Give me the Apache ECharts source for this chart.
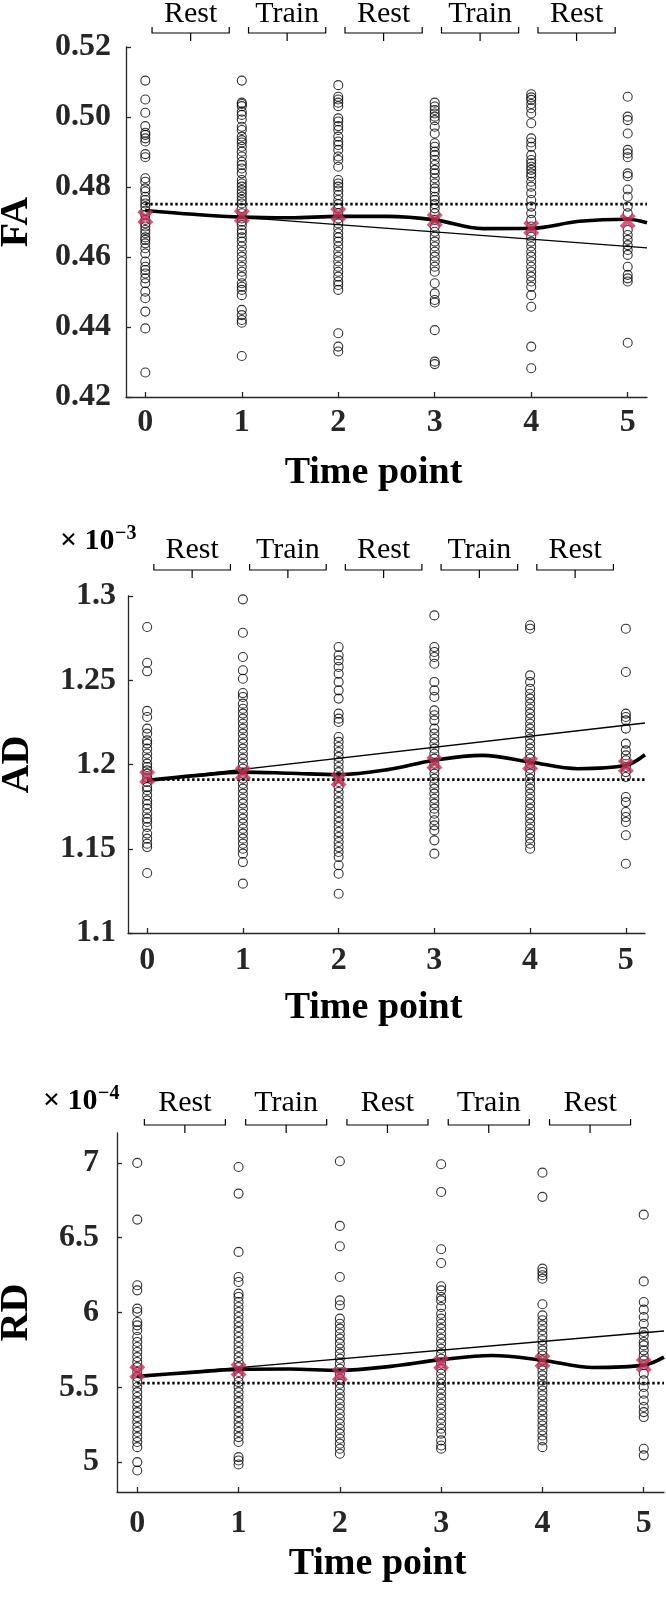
<!DOCTYPE html>
<html><head><meta charset="utf-8">
<script src="https://cdn.jsdelivr.net/npm/echarts@6/dist/echarts.min.js"></script>
<style>html,body{margin:0;padding:0;background:#fff}#c{width:666px;height:1610px}</style>
</head><body><div id="c"></div><script>
// ---------- data ----------
const timePoints = [0, 1, 2, 3, 4, 5];
const xTicks = [0, 1, 2, 3, 4, 5];
const phaseLabels = ['Rest', 'Train', 'Rest', 'Train', 'Rest'];
const phaseStarts = [0, 1, 2, 3, 4];
const xLabel = 'Time point';

// FA
const faT0 = [0.5104,0.5050,0.5012,0.4974,0.4955,0.4949,0.4939,0.4930,0.4894,0.4885,0.4825,0.4815,0.4796,0.4787,0.4772,0.4763,0.4753,0.4744,0.4732,0.4720,0.4706,0.4696,0.4687,0.4677,0.4668,0.4656,0.4649,0.4639,0.4625,0.4610,0.4587,0.4572,0.4563,0.4553,0.4539,0.4525,0.4501,0.4482,0.4444,0.4396,0.4270];
const faT1 = [0.5104,0.5041,0.5037,0.5031,0.5015,0.5006,0.4993,0.4972,0.4963,0.4944,0.4934,0.4927,0.4915,0.4901,0.4887,0.4872,0.4863,0.4853,0.4839,0.4820,0.4810,0.4801,0.4791,0.4782,0.4772,0.4763,0.4753,0.4739,0.4725,0.4710,0.4701,0.4691,0.4677,0.4668,0.4656,0.4644,0.4630,0.4615,0.4601,0.4587,0.4572,0.4558,0.4544,0.4525,0.4515,0.4506,0.4491,0.4449,0.4434,0.4420,0.4412,0.4317];
const faT2 = [0.5091,0.5058,0.5050,0.5041,0.5031,0.4996,0.4987,0.4974,0.4963,0.4944,0.4930,0.4920,0.4906,0.4887,0.4877,0.4858,0.4820,0.4810,0.4801,0.4790,0.4777,0.4763,0.4751,0.4739,0.4725,0.4710,0.4696,0.4682,0.4668,0.4656,0.4644,0.4630,0.4615,0.4601,0.4587,0.4572,0.4558,0.4544,0.4530,0.4520,0.4506,0.4382,0.4344,0.4330];
const faT3 = [0.5041,0.5030,0.5020,0.5010,0.5001,0.4991,0.4972,0.4953,0.4925,0.4915,0.4901,0.4891,0.4877,0.4863,0.4849,0.4839,0.4825,0.4810,0.4796,0.4787,0.4772,0.4763,0.4751,0.4739,0.4725,0.4706,0.4687,0.4672,0.4658,0.4644,0.4630,0.4615,0.4601,0.4587,0.4572,0.4558,0.4525,0.4496,0.4477,0.4470,0.4391,0.4301,0.4294];
const faT4 = [0.5065,0.5056,0.5049,0.5037,0.5025,0.5010,0.4982,0.4939,0.4927,0.4915,0.4891,0.4877,0.4868,0.4858,0.4849,0.4839,0.4830,0.4815,0.4801,0.4782,0.4763,0.4744,0.4725,0.4706,0.4687,0.4672,0.4658,0.4644,0.4630,0.4615,0.4601,0.4587,0.4572,0.4558,0.4544,0.4530,0.4515,0.4491,0.4458,0.4344,0.4282];
const faT5 = [0.5058,0.5001,0.4991,0.4953,0.4906,0.4896,0.4885,0.4839,0.4831,0.4793,0.4772,0.4744,0.4725,0.4677,0.4663,0.4649,0.4634,0.4620,0.4606,0.4572,0.4549,0.4539,0.4530,0.4355];
const faMeans = [0.4714,0.4717,0.4723,0.4706,0.4683,0.4703];
const curveX = [0,0.5,1,1.5,2,2.5,3,3.5,4,4.5,5,5.2];
const faCurve = [0.4733,0.4722,0.4714,0.4712,0.4716,0.4716,0.4706,0.4681,0.4682,0.4702,0.4708,0.4698];
const fitX = [0, 5.2];
const faFit = [0.4734, 0.4626];
const baseX = [0, 5.2];
const faBase = [0.4751, 0.4751];
const faTicks = [0.42,0.44,0.46,0.48,0.50,0.52];

// AD (x 10^-3)
const adT0 = [1.2816,1.2604,1.2553,1.2318,1.2282,1.2213,1.2183,1.2143,1.2124,1.2094,1.2064,1.2035,1.2005,1.1985,1.1965,1.1946,1.1922,1.1896,1.1866,1.1847,1.1817,1.1787,1.1764,1.1738,1.1708,1.1679,1.1659,1.1629,1.1590,1.1560,1.1530,1.1510,1.1356];
const adT1 = [1.2980,1.2782,1.2638,1.2559,1.2509,1.2424,1.2401,1.2361,1.2331,1.2302,1.2272,1.2242,1.2213,1.2183,1.2153,1.2124,1.2094,1.2064,1.2035,1.2005,1.1975,1.1946,1.1916,1.1886,1.1857,1.1827,1.1797,1.1768,1.1738,1.1708,1.1679,1.1649,1.1619,1.1590,1.1560,1.1530,1.1500,1.1471,1.1421,1.1293];
const adT2 = [1.2697,1.2648,1.2618,1.2579,1.2539,1.2490,1.2440,1.2391,1.2302,1.2272,1.2252,1.2163,1.2134,1.2104,1.2074,1.2045,1.2015,1.1985,1.1955,1.1926,1.1896,1.1866,1.1837,1.1807,1.1777,1.1748,1.1718,1.1688,1.1659,1.1629,1.1599,1.1570,1.1540,1.1510,1.1481,1.1451,1.1402,1.1352,1.1233];
const adT3 = [1.2885,1.2697,1.2668,1.2638,1.2598,1.2490,1.2440,1.2401,1.2321,1.2292,1.2262,1.2213,1.2183,1.2153,1.2124,1.2094,1.2064,1.2035,1.2005,1.1975,1.1946,1.1916,1.1886,1.1857,1.1827,1.1797,1.1768,1.1738,1.1708,1.1669,1.1639,1.1609,1.1550,1.1471];
const adT4 = [1.2826,1.2806,1.2529,1.2490,1.2450,1.2420,1.2391,1.2361,1.2331,1.2302,1.2272,1.2242,1.2213,1.2183,1.2153,1.2124,1.2094,1.2064,1.2035,1.2005,1.1975,1.1946,1.1916,1.1886,1.1857,1.1827,1.1797,1.1768,1.1738,1.1708,1.1679,1.1649,1.1619,1.1590,1.1560,1.1530,1.1500];
const adT5 = [1.2806,1.2549,1.2302,1.2282,1.2262,1.2213,1.2124,1.2084,1.2054,1.2025,1.1985,1.1955,1.1926,1.1807,1.1777,1.1718,1.1688,1.1659,1.1580,1.1411];
const adMeans = [1.1926,1.1950,1.1910,1.2011,1.2005,1.1991];
const adCurve = [1.1906,1.1934,1.1955,1.1948,1.1940,1.1968,1.2025,1.2054,1.2015,1.1975,1.1995,1.2058];
const adFit = [1.1906, 1.2246];
const adBase = [1.1910, 1.1910];
const adTicks = [1.1,1.15,1.2,1.25,1.3];

// RD (x 10^-4)
const rdT0 = [7.000,6.621,6.182,6.148,6.026,6.003,5.936,5.914,5.881,5.836,5.803,5.769,5.736,5.702,5.669,5.635,5.602,5.569,5.535,5.502,5.468,5.435,5.401,5.368,5.334,5.301,5.268,5.234,5.201,5.167,5.134,5.100,5.000,4.944];
const rdT1 = [6.973,6.795,6.405,6.237,6.204,6.126,6.104,6.070,6.037,6.003,5.970,5.936,5.903,5.870,5.836,5.803,5.769,5.736,5.702,5.669,5.635,5.602,5.569,5.535,5.502,5.468,5.435,5.401,5.368,5.334,5.301,5.268,5.234,5.201,5.167,5.134,5.033,5.011,4.984];
const rdT2 = [7.011,6.579,6.443,6.237,6.081,6.048,5.959,5.925,5.892,5.858,5.825,5.792,5.758,5.725,5.691,5.658,5.624,5.591,5.557,5.524,5.491,5.457,5.424,5.390,5.357,5.323,5.290,5.256,5.223,5.190,5.156,5.123,5.089,5.056];
const rdT3 = [6.991,6.806,6.423,6.331,6.175,6.148,6.104,6.081,6.037,5.992,5.959,5.925,5.892,5.858,5.825,5.792,5.758,5.725,5.691,5.658,5.624,5.591,5.557,5.524,5.491,5.457,5.424,5.390,5.357,5.323,5.290,5.256,5.223,5.190,5.145,5.111,5.089];
const rdT4 = [6.935,6.773,6.293,6.271,6.249,6.226,6.055,5.981,5.948,5.914,5.881,5.847,5.814,5.780,5.747,5.713,5.680,5.647,5.613,5.580,5.546,5.513,5.479,5.446,5.412,5.379,5.346,5.312,5.279,5.245,5.212,5.178,5.145,5.100];
const rdT5 = [6.654,6.208,6.070,6.019,5.970,5.925,5.870,5.847,5.803,5.780,5.747,5.713,5.680,5.647,5.591,5.546,5.502,5.457,5.412,5.368,5.334,5.301,5.089,5.045];
const rdMeans = [5.602,5.618,5.586,5.662,5.676,5.651];
const rdCurve = [5.573,5.598,5.620,5.622,5.613,5.640,5.685,5.713,5.681,5.632,5.648,5.702];
const rdFit = [5.573, 5.876];
const rdBase = [5.528, 5.528];
const rdTicks = [5,5.5,6,6.5,7];

// ---------- layout / style ----------
const SERIF = 'Liberation Serif';
const AX = '#262626';
const RED = '#cc3158';
const panels = [
  {name:'FA', cols:[faT0,faT1,faT2,faT3,faT4,faT5], means:faMeans, curve:faCurve, fit:faFit, base:faBase,
   ticks:faTicks, min:0.42, max:0.52, fmt:v=>v.toFixed(2),
   grid:{left:126, top:47, width:521, height:350}, labMargin:15, xMargin:10, nameGap:89, xNameGap:57, brLine:14, brText:19, exp:null},
  {name:'AD', cols:[adT0,adT1,adT2,adT3,adT4,adT5], means:adMeans, curve:adCurve, fit:adFit, base:adBase,
   ticks:adTicks, min:1.1, max:1.3, fmt:v=>String(+v.toFixed(2)),
   grid:{left:128, top:596, width:517, height:337}, labMargin:12, xMargin:12, nameGap:90, xNameGap:56, brLine:26, brText:20, exp:'−3', expPos:[60,541]},
  {name:'RD', cols:[rdT0,rdT1,rdT2,rdT3,rdT4,rdT5], means:rdMeans, curve:rdCurve, fit:rdFit, base:rdBase,
   ticks:rdTicks, min:4.8, max:7.2, fmt:v=>String(+v.toFixed(2)),
   grid:{left:117, top:1133, width:547, height:359}, labMargin:18, xMargin:16, nameGap:80, xNameGap:53, brLine:8, brText:22, exp:'−4', expPos:[43,1101]}
];

const xSym = 'path://M0,2 L2,0 L5,3 L8,0 L10,2 L7,5 L10,8 L8,10 L5,7 L2,10 L0,8 L3,5 Z';

const grids = [], xAxes = [], yAxes = [], series = [], graphics = [];
panels.forEach((p, k) => {
  grids.push(Object.assign({containLabel:false, outerBoundsMode:'none'}, p.grid));
  xAxes.push({
    type:'value', gridIndex:k, min:-0.2, max:5.2,
    name:xLabel, nameLocation:'middle', nameGap:p.xNameGap,
    nameTextStyle:{fontFamily:SERIF, fontWeight:'bold', fontSize:38, color:'#000', padding:[0,26,0,0]},
    axisLine:{show:true, onZero:false, lineStyle:{color:AX, width:1.3}},
    axisTick:{show:true, inside:true, length:5, customValues:xTicks, lineStyle:{color:AX, width:1.3}},
    axisLabel:{customValues:xTicks, margin:p.xMargin, fontFamily:SERIF, fontWeight:'bold', fontSize:32, color:AX, formatter:v=>String(v)},
    splitLine:{show:false}
  });
  yAxes.push({
    type:'value', gridIndex:k, min:p.min, max:p.max,
    name:p.name, nameLocation:'middle', nameGap:p.nameGap,
    nameTextStyle:{fontFamily:SERIF, fontWeight:'bold', fontSize:40, color:'#000'},
    axisLine:{show:true, onZero:false, lineStyle:{color:AX, width:1.3}},
    axisTick:{show:true, inside:true, length:5, customValues:p.ticks, lineStyle:{color:AX, width:1.3}},
    axisLabel:{customValues:p.ticks, margin:p.labMargin, fontFamily:SERIF, fontWeight:'bold', fontSize:32, color:AX, formatter:p.fmt},
    splitLine:{show:false}
  });
  const pts = [];
  p.cols.forEach((col, i) => col.forEach(v => pts.push([timePoints[i], v])));
  series.push({type:'scatter', xAxisIndex:k, yAxisIndex:k, data:pts, symbol:'circle', symbolSize:9, z:2,
    itemStyle:{color:'rgba(0,0,0,0)', borderColor:'#000', borderWidth:1.1}, silent:true});
  series.push({type:'line', xAxisIndex:k, yAxisIndex:k, data:fitX.map((x,i)=>[x,p.fit[i]]), showSymbol:false, z:3,
    lineStyle:{color:'#000', width:1.4}, silent:true});
  series.push({type:'line', xAxisIndex:k, yAxisIndex:k, data:baseX.map((x,i)=>[x,p.base[i]]), showSymbol:false, z:3,
    lineStyle:{color:'#000', width:2.8, type:[2.4,2.6]}, silent:true});
  series.push({type:'line', xAxisIndex:k, yAxisIndex:k, data:curveX.map((x,i)=>[x,p.curve[i]]), showSymbol:false, smooth:0.35, z:4,
    lineStyle:{color:'#000', width:3.6}, silent:true});
  series.push({type:'scatter', xAxisIndex:k, yAxisIndex:k, data:p.means.map((v,i)=>[timePoints[i], v]), symbol:xSym, symbolSize:16, z:6,
    itemStyle:{color:RED}, silent:true});
  // phase brackets
  series.push({type:'custom', xAxisIndex:k, yAxisIndex:k, z:5, silent:true, clip:false,
    data:phaseStarts.map((s,i)=>[s, p.min, i]),
    encode:{x:0, y:1},
    renderItem:(params, api) => {
      const s = api.value(0), idx = api.value(2);
      const cs = params.coordSys;
      const xl = api.coord([s+0.07, p.min])[0];
      const xr = api.coord([s+0.87, p.min])[0];
      const xc = api.coord([s+0.47, p.min])[0];
      const yl = cs.y - p.brLine;
      return {type:'group', children:[
        {type:'polyline', shape:{points:[[xl,yl-6],[xl,yl],[xr,yl],[xr,yl-6]]}, style:{stroke:'#000', lineWidth:1.2, fill:null}},
        {type:'line', shape:{x1:xc, y1:yl, x2:xc, y2:yl+8}, style:{stroke:'#000', lineWidth:1.2}},
        {type:'text', x:xc, y:yl-p.brText, style:{text:phaseLabels[idx], fill:'#000', fontSize:30, fontFamily:SERIF, align:'center', verticalAlign:'middle'}}
      ]};
    }
  });
  if (p.exp) {
    graphics.push({type:'text', left:p.expPos[0], top:p.expPos[1]-15, style:{text:'× 10', fill:'#000', fontSize:30, fontWeight:'bold', fontFamily:SERIF}});
    graphics.push({type:'text', left:p.expPos[0]+55, top:p.expPos[1]-17, style:{text:p.exp, fill:'#000', fontSize:20, fontWeight:'bold', fontFamily:SERIF}});
  }
});

const chart = echarts.init(document.getElementById('c'), null, {renderer:'canvas'});
chart.setOption({animation:false, backgroundColor:'#fff', grid:grids, xAxis:xAxes, yAxis:yAxes, series:series, graphic:graphics});
</script></body></html>
